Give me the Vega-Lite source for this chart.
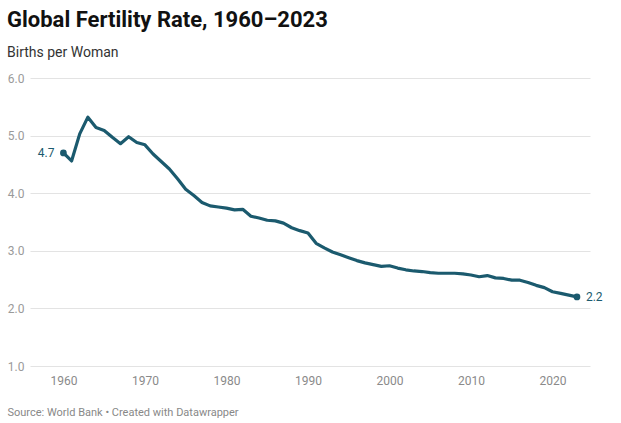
{
  "$schema": "https://vega.github.io/schema/vega-lite/v6.json",
  "width": 560,
  "height": 288,
  "autosize": {"type": "none"},
  "padding": {"left": 30, "top": 78, "right": 31, "bottom": 57},
  "background": "white",
  "title": {
    "text": "Global Fertility Rate, 1960–2023",
    "subtitle": "Births per Woman",
    "anchor": "start",
    "frame": "group",
    "dx": -23,
    "offset": 11,
    "font": "Roboto",
    "fontSize": 22,
    "fontWeight": 700,
    "color": "#111111",
    "subtitleFont": "Roboto",
    "subtitleFontSize": 14,
    "subtitleColor": "#333333",
    "subtitlePadding": 14
  },
  "config": {
    "view": {"stroke": null},
    "axis": {"labelFont": "Roboto", "titleFont": "Roboto"}
  },
  "data": {
    "values": [
      {"year": 1960, "rate": 4.70}, {"year": 1961, "rate": 4.56}, {"year": 1962, "rate": 5.03},
      {"year": 1963, "rate": 5.32}, {"year": 1964, "rate": 5.14}, {"year": 1965, "rate": 5.09},
      {"year": 1966, "rate": 4.97}, {"year": 1967, "rate": 4.86}, {"year": 1968, "rate": 4.98},
      {"year": 1969, "rate": 4.88}, {"year": 1970, "rate": 4.84}, {"year": 1971, "rate": 4.68},
      {"year": 1972, "rate": 4.55}, {"year": 1973, "rate": 4.42}, {"year": 1974, "rate": 4.25},
      {"year": 1975, "rate": 4.07}, {"year": 1976, "rate": 3.96}, {"year": 1977, "rate": 3.84},
      {"year": 1978, "rate": 3.78}, {"year": 1979, "rate": 3.76}, {"year": 1980, "rate": 3.74},
      {"year": 1981, "rate": 3.71}, {"year": 1982, "rate": 3.72}, {"year": 1983, "rate": 3.60},
      {"year": 1984, "rate": 3.57}, {"year": 1985, "rate": 3.53}, {"year": 1986, "rate": 3.52},
      {"year": 1987, "rate": 3.48}, {"year": 1988, "rate": 3.40}, {"year": 1989, "rate": 3.35},
      {"year": 1990, "rate": 3.31}, {"year": 1991, "rate": 3.13}, {"year": 1992, "rate": 3.05},
      {"year": 1993, "rate": 2.98}, {"year": 1994, "rate": 2.93}, {"year": 1995, "rate": 2.88},
      {"year": 1996, "rate": 2.83}, {"year": 1997, "rate": 2.79}, {"year": 1998, "rate": 2.76},
      {"year": 1999, "rate": 2.73}, {"year": 2000, "rate": 2.74}, {"year": 2001, "rate": 2.70},
      {"year": 2002, "rate": 2.67}, {"year": 2003, "rate": 2.65}, {"year": 2004, "rate": 2.64},
      {"year": 2005, "rate": 2.62}, {"year": 2006, "rate": 2.61}, {"year": 2007, "rate": 2.61},
      {"year": 2008, "rate": 2.61}, {"year": 2009, "rate": 2.60}, {"year": 2010, "rate": 2.58},
      {"year": 2011, "rate": 2.55}, {"year": 2012, "rate": 2.57}, {"year": 2013, "rate": 2.53},
      {"year": 2014, "rate": 2.52}, {"year": 2015, "rate": 2.49}, {"year": 2016, "rate": 2.49},
      {"year": 2017, "rate": 2.45}, {"year": 2018, "rate": 2.40}, {"year": 2019, "rate": 2.36},
      {"year": 2020, "rate": 2.29}, {"year": 2021, "rate": 2.26}, {"year": 2022, "rate": 2.23},
      {"year": 2023, "rate": 2.20}
    ]
  },
  "encoding": {
    "x": {
      "field": "year",
      "type": "quantitative",
      "scale": {"domain": [1955.9, 2024.6], "nice": false, "zero": false},
      "axis": {
        "values": [1960, 1970, 1980, 1990, 2000, 2010, 2020],
        "format": "d",
        "grid": false,
        "ticks": false,
        "domain": false,
        "labelFontSize": 12,
        "labelColor": "#8a8a8a",
        "labelPadding": 9,
        "title": "Source: World Bank • Created with Datawrapper",
        "titleAnchor": "start",
        "titleAlign": "left",
        "titleX": -23,
        "titleY": 46,
        "titleBaseline": "middle",
        "titleFontSize": 11,
        "titleFontWeight": "normal",
        "titleColor": "#888888"
      }
    },
    "y": {
      "field": "rate",
      "type": "quantitative",
      "scale": {"domain": [1, 6], "nice": false, "zero": false},
      "axis": {
        "values": [1, 2, 3, 4, 5, 6],
        "format": ".1f",
        "grid": true,
        "gridColor": "#e3e3e3",
        "gridWidth": 1,
        "ticks": false,
        "domain": false,
        "labelFontSize": 12,
        "labelColor": "#9a9a9a",
        "labelPadding": 6,
        "title": null
      }
    }
  },
  "layer": [
    {
      "mark": {"type": "line", "color": "#1b5a6e", "strokeWidth": 3.2, "strokeJoin": "round"}
    },
    {
      "transform": [{"filter": "datum.year == 1960 || datum.year == 2023"}],
      "mark": {"type": "point", "filled": true, "color": "#1b5a6e", "size": 45, "opacity": 1}
    },
    {
      "transform": [{"filter": "datum.year == 1960"}],
      "mark": {"type": "text", "align": "right", "dx": -9, "font": "Roboto", "fontSize": 12, "color": "#1b5a6e"},
      "encoding": {"text": {"field": "rate", "type": "quantitative", "format": ".1f"}}
    },
    {
      "transform": [{"filter": "datum.year == 2023"}],
      "mark": {"type": "text", "align": "left", "dx": 9, "font": "Roboto", "fontSize": 12, "color": "#1b5a6e"},
      "encoding": {"text": {"field": "rate", "type": "quantitative", "format": ".1f"}}
    }
  ]
}
